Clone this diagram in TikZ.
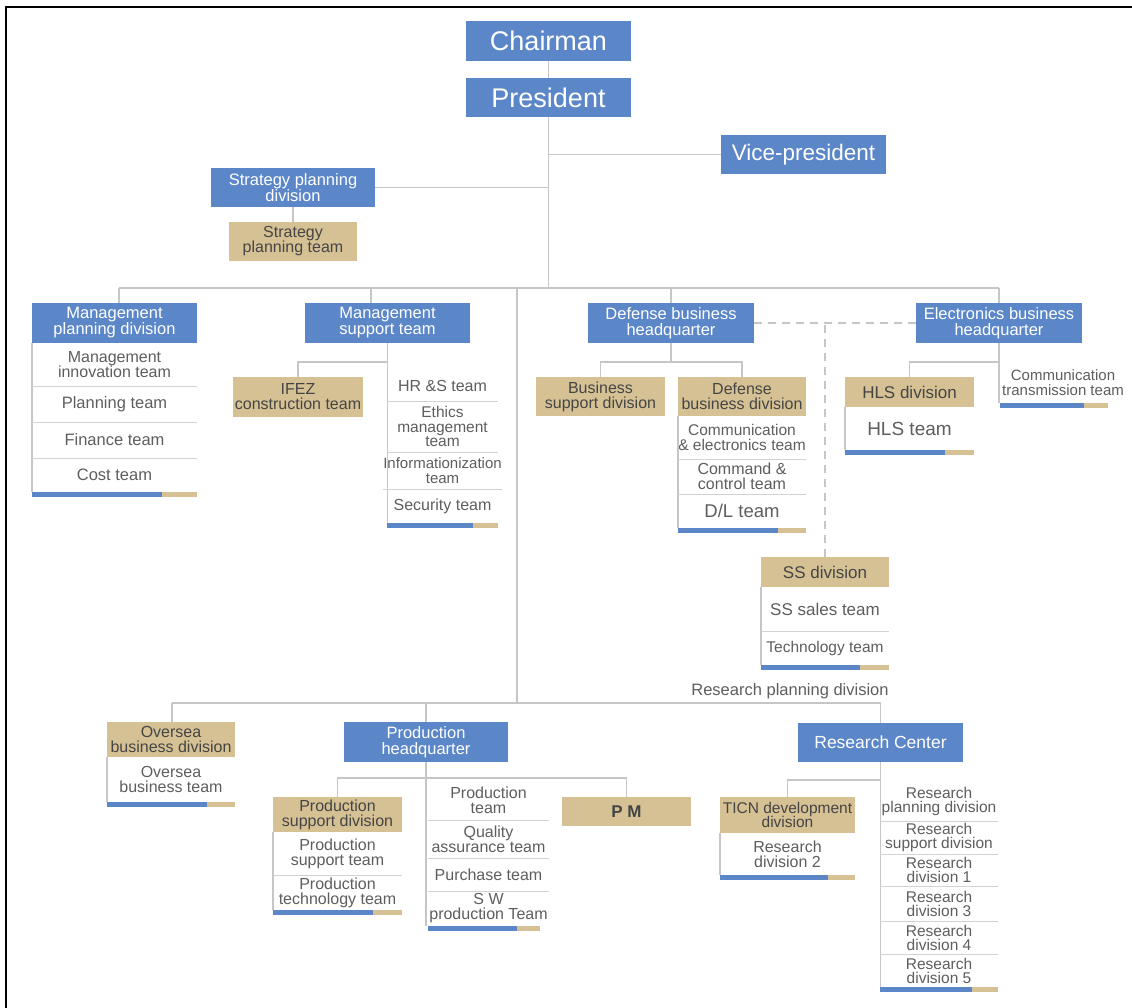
\documentclass[tikz,border=0pt]{standalone}
\usepackage{fontspec}
\setmainfont{Liberation Sans}
\usetikzlibrary{calc}

\definecolor{cblue}{HTML}{5B87C9}
\definecolor{ctan}{HTML}{D5C194}
\definecolor{ctxt}{HTML}{454545}
\definecolor{cgray}{HTML}{5E5E5E}
\definecolor{cline}{HTML}{C6C6C6}
\definecolor{csep}{HTML}{D2D2D2}

\newcommand\fs[2]{\fontsize{#1}{#2}\selectfont}
% \place{name}{style}{x1}{y1}{x2}{y2}{text}: a node filling the given box
\newcommand\place[7]{\node[#2, minimum width={(#5)-(#3)}, minimum height={(#6)-(#4)}] (#1) at ({((#3)+(#5))/2},{((#4)+(#6))/2}) {#7};}

\tikzset{
  base/.style={inner sep=0pt, outer sep=0pt, align=center},
  bbox/.style={base, fill=cblue, text=white, font=\fs{16.5}{16}},
  tbox/.style={base, fill=ctan, text=ctxt, font=\fs{16}{15}},
  row/.style={base, text=cgray, font=\fs{16}{15}},
  barb/.style={base, fill=cblue},
  bart/.style={base, fill=ctan},
  ln/.style={draw=cline, line width=1.2pt},
  sepln/.style={draw=csep, line width=1pt},
  dln/.style={draw=cline, line width=1.2pt, dash pattern=on 8pt off 6pt},
}

\begin{document}
\begin{tikzpicture}[x=1pt,y=-1pt]
\useasboundingbox (0,0) rectangle (1132,1008);
\fill[white] (0,0) rectangle (1132,1008);
\draw[line width=2.2pt] (6,1008) -- (6,7) -- (1132,7);

% --- top management
\place{chair}{bbox, font=\fs{27}{27}}{466}{21}{631}{61}{Chairman}
\place{pres}{bbox, font=\fs{27}{27}}{466}{78}{631}{117}{President}
\place{vp}{bbox, font=\fs{22.5}{22}}{721}{135}{886}{174}{Vice-president}
\place{spd}{bbox}{211}{168}{375}{207}{Strategy planning\\division}
\place{spt}{tbox}{229}{222}{357}{261}{Strategy\\planning team}

% --- management planning division
\place{mpd}{bbox}{32}{303}{197}{343}{Management\\planning division}
\place{mpd1}{row}{32}{343}{197}{386}{Management\\innovation team}
\place{mpd2}{row, font=\fs{16.5}{15}}{32}{386}{197}{422}{Planning team}
\place{mpd3}{row, font=\fs{16.5}{15}}{32}{422}{197}{458}{Finance team}
\place{mpd4}{row, font=\fs{16.5}{15}}{32}{458}{197}{492}{Cost team}
\place{mpdbb}{barb}{32}{492}{162}{497}{}
\place{mpdbt}{bart}{162}{492}{197}{497}{}

% --- management support team
\place{mst}{bbox}{305}{303}{470}{343}{Management\\support team}
\place{ifez}{tbox}{233}{377}{363}{417}{IFEZ\\construction team}
\place{mst1}{row}{387}{370}{498}{401}{HR \&S team}
\place{mst2}{row, font=\fs{15.5}{14.5}}{387}{401}{498}{452}{Ethics\\management\\team}
\place{mst3}{row, font=\fs{15}{14.5}}{387}{452}{498}{489}{Informationization\\team}
\place{mst4}{row}{387}{489}{498}{523}{Security team}
\place{mstbb}{barb}{387}{523}{473}{528}{}
\place{mstbt}{bart}{473}{523}{498}{528}{}

% --- defense business headquarter
\place{dbh}{bbox}{588}{303}{754}{343}{Defense business\\headquarter}
\place{bsd}{tbox}{536}{377}{665}{416}{Business\\support division}
\place{dbd}{tbox}{678}{377}{806}{416}{Defense\\business division}
\place{dbd1}{row, font=\fs{15.5}{14.5}}{678}{416}{806}{459}{Communication\\\& electronics team}
\place{dbd2}{row}{678}{459}{806}{494}{Command \&\\control team}
\place{dbd3}{row, font=\fs{18.5}{18}}{678}{494}{806}{528}{D/L team}
\place{dbdbb}{barb}{678}{528}{778}{533}{}
\place{dbdbt}{bart}{778}{528}{806}{533}{}

% --- electronics business headquarter
\place{ebh}{bbox}{916}{303}{1082}{343}{Electronics business\\headquarter}
\place{hls}{tbox, font=\fs{17}{16}}{845}{377}{974}{407}{HLS division}
\place{hls1}{row, font=\fs{19}{18}}{845}{407}{974}{450}{HLS team}
\place{hlsbb}{barb}{845}{450}{945}{455}{}
\place{hlsbt}{bart}{945}{450}{974}{455}{}
\place{ct1}{row, font=\fs{15}{14.5}}{1000}{362}{1126}{403}{Communication\\transmission team}
\place{ctbb}{barb}{1000}{403}{1084}{408}{}
\place{ctbt}{bart}{1084}{403}{1108}{408}{}

% --- SS division
\place{ssd}{tbox, font=\fs{17}{16}}{761}{557}{889}{587}{SS division}
\place{ssd1}{row, font=\fs{17}{16}}{761}{587}{889}{631}{SS sales team}
\place{ssd2}{row, font=\fs{15.5}{15}}{761}{631}{889}{665}{Technology team}
\place{ssdbb}{barb}{761}{665}{860}{670}{}
\place{ssdbt}{bart}{860}{665}{889}{670}{}
\node[row, font=\fs{16.5}{16}] (rpd) at (790,691) {Research planning division};

% --- oversea business division
\place{osd}{tbox}{107}{722}{235}{757}{Oversea\\business division}
\place{osd1}{row}{107}{757}{235}{802}{Oversea\\business team}
\place{osdbb}{barb}{107}{802}{207}{807}{}
\place{osdbt}{bart}{207}{802}{235}{807}{}

% --- production headquarter
\place{phq}{bbox}{344}{722}{508}{762}{Production\\headquarter}
\place{psd}{tbox}{273}{797}{402}{832}{Production\\support division}
\place{psd1}{row}{273}{832}{402}{875}{Production\\support team}
\place{psd2}{row}{273}{875}{402}{910}{Production\\technology team}
\place{psdbb}{barb}{273}{910}{373}{915}{}
\place{psdbt}{bart}{373}{910}{402}{915}{}
\place{pl1}{row}{428}{780}{549}{820}{Production\\team}
\place{pl2}{row}{428}{820}{549}{858}{Quality\\assurance team}
\place{pl3}{row}{428}{858}{549}{891}{Purchase team}
\place{pl4}{row}{428}{891}{549}{926}{S W\\production Team}
\place{plbb}{barb}{428}{926}{517}{931}{}
\place{plbt}{bart}{517}{926}{540}{931}{}
\place{pm}{tbox, font=\fs{17}{16}\bfseries}{562}{797}{691}{826}{P M}

% --- research center
\place{rc}{bbox, font=\fs{17.5}{17}}{798}{723}{963}{762}{Research Center}
\place{ticn}{tbox, font=\fs{15.5}{14.5}}{720}{797}{855}{833}{TICN development\\division}
\place{ticn1}{row}{720}{833}{855}{875}{Research\\division 2}
\place{ticnbb}{barb}{720}{875}{828}{880}{}
\place{ticnbt}{bart}{828}{875}{855}{880}{}
\place{rl1}{row, font=\fs{15.5}{14}}{880}{782}{998}{821}{Research\\planning division}
\place{rl2}{row, font=\fs{15.5}{14}}{880}{821}{998}{854}{Research\\support division}
\place{rl3}{row, font=\fs{15.5}{14}}{880}{854}{998}{886}{Research\\division 1}
\place{rl4}{row, font=\fs{15.5}{14}}{880}{886}{998}{921}{Research\\division 3}
\place{rl5}{row, font=\fs{15.5}{14}}{880}{921}{998}{954}{Research\\division 4}
\place{rl6}{row, font=\fs{15.5}{14}}{880}{954}{998}{987}{Research\\division 5}
\place{rlbb}{barb}{880}{987}{972}{992}{}
\place{rlbt}{bart}{972}{987}{998}{992}{}

% --- junctions of the connector buses
\coordinate (busL) at (119,288);
\coordinate (busM) at (371,288);
\coordinate (busR) at (999,288);
\coordinate (trk) at (517,288);
\coordinate (trk2) at (517,703);
\coordinate (bus2L) at (172,703);
\coordinate (bus2R) at (880.5,703);
\coordinate (mstJ) at (387.5,362);
\coordinate (dbhJ) at (671,362);
\coordinate (ebhJ) at (999,362);
\coordinate (phqJ) at (426,778);
\coordinate (rcJ) at (880.5,780);

% --- connectors
\draw[ln] (chair.south) -- (pres.north);
\draw[ln] (busL) -- (busR);
\draw[ln] (pres.south) -- (pres.south |- busL);
\draw[ln] (vp.west) -- (vp.west -| pres.south);
\draw[ln] (spd.east) -- (spd.east -| pres.south);
\draw[ln] (spd.south) -- (spt.north);
\draw[ln] (busL) -- (busL |- mpd.north);
\draw[ln] (busM) -- (busM |- mst.north);
\draw[ln] (dbh.north |- busL) -- (dbh.north);
\draw[ln] (busR) -- (ebh.north);
\draw[ln] (trk) -- (trk2);
\draw[ln] (bus2L) -- (bus2R);
\draw[ln] (bus2L) -- (bus2L |- osd.north);
\draw[ln] (phq.north |- bus2L) -- (phq.north);
\draw[ln] (bus2R) -- (rc.north);

% management planning division list
\draw[ln] (mpd.south west) -- (mpdbb.north west);
\foreach \r in {mpd1,mpd2,mpd3} \draw[sepln] (\r.south west) -- (\r.south east);

% management support team
\draw[ln] (mst.south) -- (mst.south |- mstbb.north);
\draw[ln] (mstJ) -| (ifez.north);
\foreach \r in {mst1,mst2,mst3} \draw[sepln] (\r.south west) -- (\r.south east);

% defense business headquarter
\draw[ln] (dbh.south) -- (dbhJ);
\draw[ln] (bsd.north) |- (dbd.north |- dbhJ) -- (dbd.north);
\draw[ln] (dbd.south west) -- (dbdbb.north west);
\foreach \r in {dbd1,dbd2} \draw[sepln] (\r.south west) -- (\r.south east);
\draw[dln] (dbh.east) -- (ebh.west);
\draw[dln] (ssd.north) -- (ssd.north |- dbh.east);

% electronics business headquarter
\draw[ln] (ebh.south) -- (ebh.south |- ctbb.north);
\draw[ln] (ebhJ) -| (hls.north);
\draw[ln] (hls.south west) -- (hlsbb.north west);

% SS division
\draw[ln] (ssd.south west) -- (ssdbb.north west);
\draw[sepln] (ssd1.south west) -- (ssd1.south east);

% oversea business division
\draw[ln] (osd.south west) -- (osdbb.north west);

% production headquarter
\draw[ln] (phq.south) -- (phq.south |- plbb.north);
\draw[ln] (psd.north) |- (pm.north |- phqJ) -- (pm.north);
\draw[ln] (psd.south west) -- (psdbb.north west);
\draw[sepln] (psd1.south west) -- (psd1.south east);
\foreach \r in {pl1,pl2,pl3} \draw[sepln] (\r.south west) -- (\r.south east);

% research center
\draw[ln] (rc.south) -- (rc.south |- rlbb.north);
\draw[ln] (rcJ) -| (ticn.north);
\draw[ln] (ticn.south west) -- (ticnbb.north west);
\foreach \r in {rl1,rl2,rl3,rl4,rl5} \draw[sepln] (\r.south west) -- (\r.south east);
\end{tikzpicture}
\end{document}
